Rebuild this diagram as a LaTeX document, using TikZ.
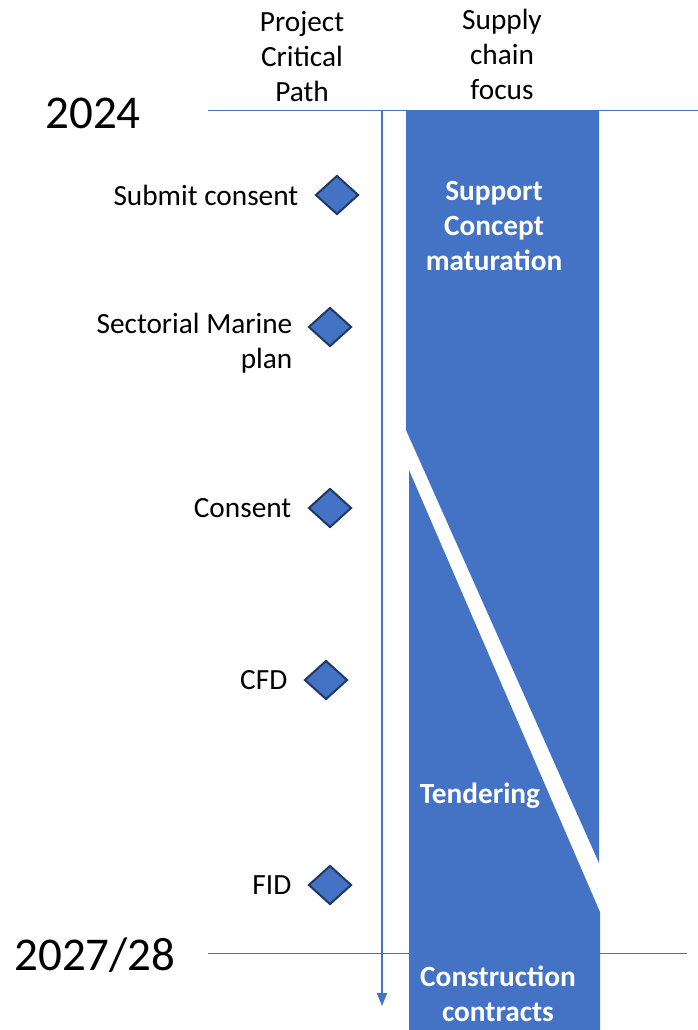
\documentclass[tikz,border=0pt]{standalone}
\usepackage{fontspec}
\setmainfont{Carlito}
\usetikzlibrary{positioning,shapes.geometric,arrows.meta}
\definecolor{phaseblue}{HTML}{4472C4}
\definecolor{navy}{HTML}{1F3864}

\begin{document}
\begin{tikzpicture}[x=1pt,y=-1pt,
		milestone/.style={diamond,fill=phaseblue,draw=navy,line width=2pt,inner sep=0pt,minimum width=43pt,minimum height=39pt},
		mlabel/.style={inner sep=0pt,align=right,font=\fontsize{29.3}{35}\selectfont},
		header/.style={inner sep=0pt,align=center,font=\fontsize{29.3}{35}\selectfont},
		phase/.style={inner sep=0pt,align=center,text=white,font=\bfseries\fontsize{29.3}{35}\selectfont},
		year/.style={inner sep=0pt,font=\fontsize{47}{56}\selectfont},
		gridline/.style={draw=phaseblue,line width=1pt},
		timeline/.style={draw=phaseblue,line width=1.6pt,-{Triangle[length=13pt,width=10pt]}}]
		\useasboundingbox (0,0) rectangle (698,1030);

		\coordinate		(top l)		at (208,111);
		\coordinate		(top r)		at (698,111);
		\coordinate		(bot l)		at (208,953);
		\coordinate		(bot r)		at (687,953);
		\draw[gridline] (top l) -- (top r);
		\draw[gridline] (bot l) -- (bot r);

		\fill[phaseblue] (406,111) -- (599,111) -- (599,863) -- (406,430) -- cycle;
		\fill[phaseblue] (409,470) -- (600,912) -- (600,1030) -- (409,1030) -- cycle;

		\coordinate		(start)		at (382,111);
		\coordinate		(end)		at (382,1006);
		\draw[timeline] (start) -- (end);

		\node[header]					(cp)		at (302,57)		{Project\\Critical\\Path};
		\node[header]					(sc)		at (502,54)		{Supply\\chain\\focus};
		\node[year]						(y1)		at (93,113)		{2024};
		\node[year]						(y2)		at (95,955)		{2027/28};

		\node[milestone]				(submit)	at (337,195)	{};
		\node[milestone]				(smp)		at (330,327)	{};
		\node[milestone]				(consent)	at (330,508)	{};
		\node[milestone]				(cfd)		at (326,680)	{};
		\node[milestone]				(fid)		at (330,885)	{};

		\node[mlabel,left=16pt of submit]				(l1)	{Submit consent};
		\node[mlabel,left=15pt of smp,yshift=-16pt]		(l2)	{Sectorial Marine\\plan};
		\node[mlabel,left=16pt of consent]				(l3)	{Consent};
		\node[mlabel,left=16pt of cfd]					(l4)	{CFD};
		\node[mlabel,left=16pt of fid]					(l5)	{FID};

		\node[phase]					(support)	at (494,226)	{Support\\Concept\\maturation};
		\node[phase]					(tender)	at (480,796)	{Tendering};
		\node[phase]					(constr)	at (498,994)	{Construction\\contracts};
	\end{tikzpicture}
\end{document}
